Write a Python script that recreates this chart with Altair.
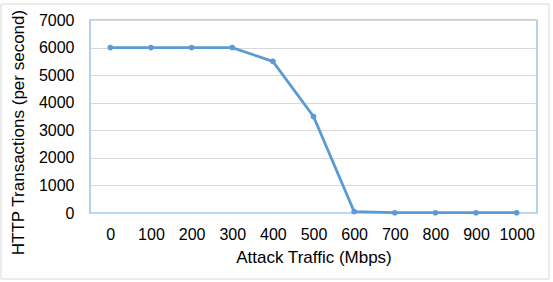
import altair as alt
import pandas as pd

traffic = ["0", "100", "200", "300", "400", "500", "600", "700", "800", "900", "1000"]
transactions = [6000, 6000, 6000, 6000, 5500, 3500, 50, 10, 10, 10, 10]

df = pd.DataFrame({"traffic": traffic, "tps": transactions})

FONT = "Liberation Sans"
BLUE = "#5B9BD5"

x = alt.X("traffic:N", sort=traffic, title="Attack Traffic (Mbps)",
          scale=alt.Scale(paddingInner=0, paddingOuter=0, align=0.5),
          axis=alt.Axis(labelAngle=0, ticks=False, domain=False, grid=False,
                        labelFontSize=16, labelPadding=13, titleFontSize=17,
                        titleFontWeight="normal", titlePadding=7,
                        labelFont=FONT, titleFont=FONT, labelColor="#000", titleColor="#000"))
y = alt.Y("tps:Q", title="HTTP Transactions (per second)",
          scale=alt.Scale(domain=[0, 7000], nice=False),
          axis=alt.Axis(values=[0, 1000, 2000, 3000, 4000, 5000, 6000, 7000], format="d", ticks=False,
                        domain=False, gridColor="#D9D9D9", gridWidth=1,
                        labelFontSize=16, labelPadding=16, titleFontSize=17,
                        titleFontWeight="normal", titlePadding=11, titleY=112,
                        labelFont=FONT, titleFont=FONT, labelColor="#000", titleColor="#000"))

line = alt.Chart(df).mark_line(color=BLUE, strokeWidth=2.8, point=alt.OverlayMarkDef(color=BLUE, size=32, filled=True, opacity=1)).encode(x=x, y=y)

frame = alt.Chart(pd.DataFrame({"a": [0]})).mark_rect(fill=None, stroke="#D9D9D9", strokeWidth=1, clip=False).encode(
    x=alt.value(-89), x2=alt.value(459), y=alt.value(-16), y2=alt.value(259))

chart = alt.layer(frame, line).properties(
    width=447, height=193,
    autosize=alt.AutoSizeParams(type="none"),
    padding={"left": 90, "top": 20, "right": 16, "bottom": 69},
    background="white",
).configure_view(stroke="#9DC3E6", strokeWidth=1.5)

chart.save("out.html", embed_options={"renderer": "svg", "actions": False})
